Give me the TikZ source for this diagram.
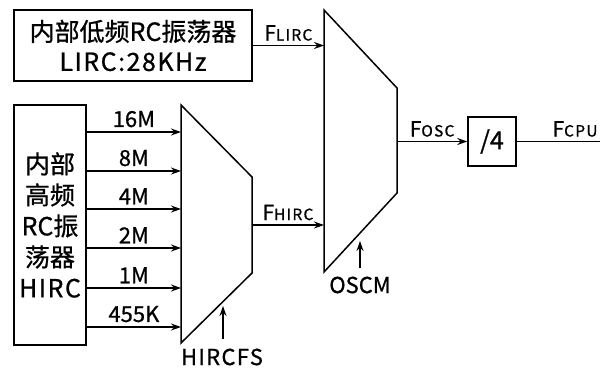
\documentclass[tikz,border=0pt]{standalone}
\usepackage{fontspec}
\setmainfont{Noto Sans CJK SC}[FakeBold=0.8]
\usetikzlibrary{arrows.meta}
\newcommand\FsubLbl[1]{{\fontsize{21}{22}\selectfont F}{\fontsize{15.5}{16}\selectfont\addfontfeatures{LetterSpace=8} #1}}
\begin{document}
\begin{tikzpicture}[x=1pt,y=-1pt,
  line width=1.5pt,
  box/.style={draw, inner sep=0pt, align=center},
  arr/.style={-{Stealth[length=10pt,width=7pt]}},
  lab/.style={font=\fontsize{22}{24}\selectfont, inner sep=1pt},
  flab/.style={inner sep=1pt, above=3pt}]
\useasboundingbox (0,0) rectangle (600,367);
\fill[white] (0,0) rectangle (600,367);

% boxes
\node[box, minimum width=238pt, minimum height=71pt, font=\fontsize{25}{30}\selectfont] (lirc) at (133,45.5) {内部低频RC振荡器\\{\addfontfeatures{LetterSpace=6}LIRC:28KHz}};
\node[box, minimum width=72pt, minimum height=240pt, font=\fontsize{25}{31}\selectfont] (hirc) at (50,225) {内部\\高频\\RC振\\荡器\\{\addfontfeatures{LetterSpace=6}HIRC}};
\node[box, minimum width=48pt, minimum height=49pt, font=\fontsize{25}{26}\selectfont] (div) at (492,141.5) {/4};

% mux 1 (HIRCFS)
\coordinate (m1a) at (181,105);
\coordinate (m1b) at (252,177);
\coordinate (m1c) at (252,273);
\coordinate (m1d) at (181,343);
\coordinate (m1o) at (252,225);
\draw (m1a) -- (m1b) -- (m1c) -- (m1d) -- cycle;

% mux 2 (OSCM)
\coordinate (m2a) at (324,10);
\coordinate (m2b) at (397,88);
\coordinate (m2c) at (397,193);
\coordinate (m2d) at (324,272);
\coordinate (m2o) at (397,141.5);
\coordinate (m2i1) at (324,45.5);
\coordinate (m2i2) at (324,225);
\draw (m2a) -- (m2b) -- (m2c) -- (m2d) -- cycle;

% HIRC inputs
\foreach \yy/\t [count=\i] in {132/16M,171/8M,209/4M,248/2M,288/1M,327/455K} {
  \coordinate (in\i) at (181,\yy);
  \draw[arr] (hirc.east |- in\i) -- (in\i) node[midway, lab, above=3pt] {\t};
}

% connections
\draw[arr] (lirc.east |- m2i1) -- (m2i1) node[midway, flab] {\FsubLbl{LIRC}};
\draw[arr] (m1o) -- (m2i2) node[midway, flab] {\FsubLbl{HIRC}};
\draw[arr] (m2o) -- (div.west) node[midway, flab] {\FsubLbl{OSC}};
\coordinate (cpuend) at (600,141.5);
\draw (div.east) -- (cpuend) node[pos=0.7, flab] {\FsubLbl{CPU}};

% select signals
\node[lab] (hircfs) at (222,357) {\addfontfeatures{LetterSpace=6}HIRCFS};
\coordinate (fsB) at (223,339);
\coordinate (fsT) at (223,306);
\draw[arr] (fsB) -- (fsT);
\node[lab] (oscm) at (360,285) {OSCM};
\coordinate (osB) at (360,268);
\coordinate (osT) at (360,241);
\draw[arr] (osB) -- (osT);
\end{tikzpicture}
\end{document}
